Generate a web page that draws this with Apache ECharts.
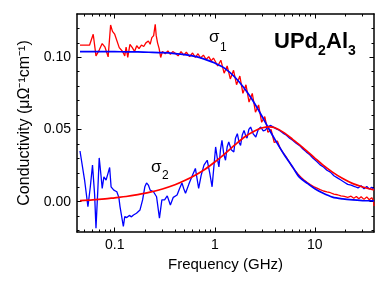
<!DOCTYPE html>
<html>
<head>
<meta charset="utf-8">
<script src="https://cdn.jsdelivr.net/npm/echarts@6/dist/echarts.min.js"></script>
<style>html,body{margin:0;padding:0;background:#fff}#c{width:384px;height:290px}</style>
</head>
<body>
<div id="c"></div>
<script>
// ---- axis ticks ----
const xMin = 0.042, xMax = 39;
const yMin = -0.021, yMax = 0.130;
const xTicks = [0.1, 1, 10];
const xTickLabels = ['0.1', '1', '10'];
const xMinorTicks = [0.05,0.06,0.07,0.08,0.09,0.2,0.3,0.4,0.5,0.6,0.7,0.8,0.9,2,3,4,5,6,7,8,9,20,30];
const yTicks = [0, 0.05, 0.10];
const yTickLabels = ['0.00', '0.05', '0.10'];
const yMinorTicks = [-0.02,-0.01,0.01,0.02,0.03,0.04,0.06,0.07,0.08,0.09,0.11,0.12];

// ---- sigma1 measured (red) ----
const s1Freq = [0.045,0.056,0.061,0.065,0.070,0.075,0.080,0.086,0.091,0.095,0.100,0.104,0.111,0.120,0.126,0.130,0.135,0.142,0.150,0.158,0.166,0.175,0.185,0.195,0.205,0.217,0.226,0.235,0.245,0.254,0.260,0.268,0.278,0.288,0.30,0.32,0.34,0.36,0.38,0.40,0.43,0.46,0.49,0.52,0.56,0.60,0.64,0.68,0.72,0.77,0.82,0.87,0.92,0.97,
  1.0,1.07,1.15,1.24,1.33,1.43,1.54,1.65,1.78,1.91,2.05,2.2,2.37,2.55,2.74,2.94,3.16,3.4,3.65,3.93,4.22,
  4.5,4.8,5.1,5.5,5.9,6.3,6.8,7.3,7.8,8.4,9.0,9.7,10.5,11.3,12.2,13.2,14.3,15.5,16.8,18.2,19.7,21.3,23,24.5,26,27.5,29,31,33,35,37,38.5,39.0];
const s1Val = [0.1084,0.1084,0.1160,0.1010,0.1050,0.1095,0.1070,0.1003,0.1224,0.1180,0.1160,0.1170,0.1067,0.1040,0.1010,0.1070,0.0999,0.1090,0.1067,0.1040,0.1080,0.1060,0.1085,0.1075,0.1100,0.1113,0.1090,0.1136,0.1150,0.1229,0.1150,0.1100,0.1060,0.0999,0.1040,0.1025,0.1045,0.1020,0.1040,0.1030,0.1010,0.1040,0.1015,0.1035,0.1005,0.1030,0.1000,0.1025,0.0995,0.1015,0.0985,0.1005,0.0975,0.0995,
  0.099,0.094,0.098,0.089,0.094,0.085,0.091,0.081,0.087,0.075,0.081,0.069,0.075,0.062,0.067,0.055,0.059,0.048,0.050,0.041,0.042,
  0.0370,0.0340,0.0315,0.0280,0.0245,0.0218,0.0190,0.0168,0.0150,0.0133,0.0118,0.0104,0.0094,0.0084,0.0074,0.0068,0.0062,0.0052,0.0048,0.0040,0.0037,0.0030,0.0038,0.0024,0.0036,0.0020,0.0034,0.0016,0.0033,0.0013,0.0028,0.0006,-0.0030];

// ---- sigma2 measured (blue) ----
const s2Freq = [0.045,0.050,0.054,0.057,0.060,0.063,0.065,0.068,0.070,0.073,0.075,0.078,0.082,0.086,0.089,0.092,0.098,0.105,0.110,0.113,0.122,0.126,0.132,0.140,0.147,0.154,0.165,0.179,0.190,0.200,0.208,0.217,0.226,0.244,0.262,0.280,0.296,0.315,0.335,0.36,0.385,0.42,0.445,0.47,0.49,0.51,0.55,0.59,0.64,0.69,0.73,0.78,0.84,0.89,0.94,
  1.02,1.06,1.10,1.14,1.18,1.23,1.28,1.33,1.38,1.46,1.55,1.61,1.68,1.75,1.81,1.88,1.96,2.03,2.1,2.19,2.28,2.42,2.57,2.72,2.88,3.05,3.2,3.4,3.63,4.07,
  4.4,4.8,5.2,5.6,6.0,6.5,7.0,7.6,8.2,8.9,9.6,10.4,11.3,12.2,13.2,14.3,15.5,16.8,18.2,19.7,21.3,23,25,27,29,31,33,35,37,39.0];
const s2Val = [0.0351,0.0150,-0.0034,0.0100,0.0253,0.0050,-0.0183,0.0100,0.0303,0.0180,0.0092,0.0172,0.0150,0.0200,0.0237,0.0103,0.0080,0.0069,0.0030,-0.0034,-0.0172,-0.0103,-0.0110,-0.0095,-0.0105,-0.0092,-0.0080,-0.0057,0.0012,0.0103,0.0130,0.0115,0.0080,0.0069,0.0034,-0.0114,0.0012,0.0012,0.0040,-0.0023,0.0030,0.0046,0.0092,0.0130,0.0090,0.0058,0.0120,0.0172,0.0230,0.0092,0.0180,0.0253,0.0287,0.0200,0.0103,
  0.0379,0.0300,0.0241,0.0360,0.0425,0.0330,0.0287,0.0380,0.0413,0.0360,0.0344,0.0440,0.0471,0.0410,0.0390,0.0460,0.0494,0.0460,0.0440,0.0500,0.0517,0.0470,0.0448,0.0500,0.0517,0.0490,0.0495,0.0520,0.0528,0.0506,
  0.0495,0.0475,0.0460,0.0440,0.0425,0.0405,0.0390,0.0365,0.0345,0.0325,0.0300,0.0280,0.0255,0.0240,0.0218,0.0205,0.0180,0.0165,0.0150,0.0135,0.0120,0.0115,0.0105,0.0095,0.0110,0.0090,0.0105,0.0088,0.0100,0.0085];

// ---- fits ----
const fitFreq = [0.045,0.06,0.08,0.1,0.13,0.17,0.22,0.3,0.4,0.5,0.65,0.8,1,1.25,1.6,2,2.5,3,3.5,4,5,6,7,8.5,10,12,15,19,24,30,39];
const fit1Val = [0.1040,0.1040,0.1040,0.1039,0.1038,0.1037,0.1035,0.1032,0.1026,0.1019,0.1005,0.0986,0.0960,0.0925,0.0860,0.0780,0.0680,0.0585,0.0500,0.0430,0.0320,0.0240,0.0170,0.0125,0.0090,0.0060,0.0032,0.0019,0.0012,0.0008,0.0005];
const fit2Val = [0.0008,0.0012,0.0019,0.0027,0.0036,0.0049,0.0064,0.0088,0.0117,0.0146,0.0187,0.0225,0.0275,0.0330,0.0395,0.0450,0.0490,0.0512,0.0518,0.0512,0.0475,0.0432,0.0395,0.0345,0.0302,0.0255,0.0205,0.0160,0.0125,0.0102,0.0082];

const zip = (a, b) => a.map((x, i) => [x, b[i]]);
const FONT = 'Liberation Sans, Arial, sans-serif';

function xAx(pos, major, extra) {
  return Object.assign({
    type: 'log', logBase: 10, min: xMin, max: xMax, position: pos,
    axisLine: {show: major, onZero: false, lineStyle: {color: '#000', width: 1.5}},
    axisTick: {show: true, inside: true, length: major ? 4.5 : 2.5,
      customValues: major ? xTicks : xMinorTicks, lineStyle: {color: '#000', width: 1}},
    axisLabel: {show: false},
    splitLine: {show: false}, minorTick: {show: false}
  }, extra || {});
}
function yAx(pos, major, extra) {
  return Object.assign({
    type: 'value', min: yMin, max: yMax, position: pos,
    axisLine: {show: major, onZero: false, lineStyle: {color: '#000', width: 1.5}},
    axisTick: {show: true, inside: true, length: major ? 4.5 : 2.5,
      customValues: major ? yTicks : yMinorTicks, lineStyle: {color: '#000', width: 1}},
    axisLabel: {show: false},
    splitLine: {show: false}
  }, extra || {});
}

const chart = echarts.init(document.getElementById('c'), null, {renderer: 'canvas'});
chart.setOption({
  animation: false,
  backgroundColor: '#fff',
  grid: {left: 77, right: 10, top: 14, bottom: 58, containLabel: false},
  xAxis: [
    xAx('bottom', true, {
      axisLabel: {show: true, customValues: xTicks, margin: 6, fontSize: 14, color: '#000', fontFamily: FONT,
        formatter: v => xTickLabels[xTicks.findIndex(t => Math.abs(t - v) < t * 1e-6)] || ''},
      name: 'Frequency (GHz)', nameLocation: 'middle', nameGap: 24,
      nameTextStyle: {fontSize: 15, color: '#000', fontFamily: FONT}
    }),
    xAx('bottom', false),
    xAx('top', true),
    xAx('top', false)
  ],
  yAxis: [
    yAx('left', true, {
      axisLabel: {show: true, customValues: yTicks, margin: 6, fontSize: 14, color: '#000', fontFamily: FONT,
        formatter: v => yTickLabels[yTicks.findIndex(t => Math.abs(t - v) < 1e-9)] || ''},
      name: 'Conductivity (μΩ⁻¹cm⁻¹)', nameLocation: 'middle', nameGap: 44, nameRotate: 90,
      nameTextStyle: {fontSize: 16, color: '#000', fontFamily: FONT}
    }),
    yAx('left', false),
    yAx('right', true),
    yAx('right', false)
  ],
  series: [
    {type: 'line', data: zip(s1Freq, s1Val), showSymbol: false, lineStyle: {color: '#ff0000', width: 1.3}, z: 2},
    {type: 'line', data: zip(s2Freq, s2Val), showSymbol: false, lineStyle: {color: '#0000ff', width: 1.3}, z: 2},
    {type: 'line', data: zip(fitFreq, fit1Val), showSymbol: false, smooth: 0.3, lineStyle: {color: '#0000ff', width: 1.7}, z: 3},
    {type: 'line', data: zip(fitFreq, fit2Val), showSymbol: false, smooth: 0.3, lineStyle: {color: '#ff0000', width: 1.7}, z: 3}
  ],
  graphic: [
    {type: 'text', left: 274, top: 31, style: {text: 'UPd', fontSize: 22, fontWeight: 'bold', fill: '#000', fontFamily: FONT}},
    {type: 'text', left: 318, top: 44, style: {text: '2', fontSize: 14, fontWeight: 'bold', fill: '#000', fontFamily: FONT}},
    {type: 'text', left: 326, top: 31, style: {text: 'Al', fontSize: 22, fontWeight: 'bold', fill: '#000', fontFamily: FONT}},
    {type: 'text', left: 348, top: 44, style: {text: '3', fontSize: 14, fontWeight: 'bold', fill: '#000', fontFamily: FONT}},
    {type: 'text', left: 209, top: 29, style: {text: 'σ', fontSize: 17, fill: '#000', fontFamily: FONT}},
    {type: 'text', left: 220, top: 42, style: {text: '1', fontSize: 12, fill: '#000', fontFamily: FONT}},
    {type: 'text', left: 151, top: 159, style: {text: 'σ', fontSize: 17, fill: '#000', fontFamily: FONT}},
    {type: 'text', left: 162, top: 170, style: {text: '2', fontSize: 12, fill: '#000', fontFamily: FONT}}
  ]
});
</script>
</body>
</html>
